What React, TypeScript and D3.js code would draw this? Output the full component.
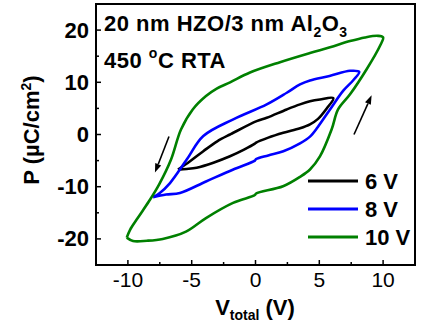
import React from "react";
import * as d3 from "d3";

const W = 422;
const H = 329;

// Data: [V_total (V), P (µC/cm²)]
const loop6Lower: [number, number][] = [
  [-6.07, -6.73], [-5.4, -6.6], [-4.61, -6.35], [-3.3, -5.4], [-2.0, -4.17], [-0.9, -2.9], [-0.05, -1.75],
  [0.05, -1.55], [1.0, -0.6], [2.18, 0.33], [3.49, 1.2], [4.27, 1.95], [4.9, 3.0], [5.58, 5.0], [6.1, 6.95],
];
const loop6Upper: [number, number][] = [
  [6.1, 6.95], [5.05, 6.7], [4.27, 6.35], [3.49, 5.77], [2.45, 4.8], [0.88, 3.2], [0.09, 2.56],
  [-1.74, 0.33], [-2.0, 0.0], [-3.0, -1.3], [-4.09, -3.2], [-5.13, -5.13], [-6.07, -6.73],
];
const loop8Lower: [number, number][] = [
  [-8.03, -12.0], [-7.01, -11.5], [-5.92, -11.2], [-3.88, -9.0], [-1.74, -6.7], [-0.05, -5.0],
  [0.05, -4.7], [1.0, -4.0], [2.18, -3.2], [3.49, -1.7], [4.27, -0.4], [4.9, 1.5], [5.84, 4.8], [6.88, 8.4],
  [7.66, 10.4], [8.13, 12.0],
];
const loop8Upper: [number, number][] = [
  [8.13, 12.0], [7.41, 12.2], [5.8, 11.2], [4.27, 10.35], [3.49, 9.6], [2.45, 8.0], [0.88, 5.77],
  [-1.74, 2.9], [-4.09, -0.3], [-5.39, -4.8], [-6.7, -9.3], [-7.5, -11.2], [-8.03, -12.0],
];
const loop10Lower: [number, number][] = [
  [-10.09, -19.75], [-9.6, -20.4], [-8.5, -20.35], [-7.27, -20.0], [-5.45, -18.6], [-3.88, -16.0],
  [-1.76, -13.1], [-0.05, -11.6], [0.05, -11.3], [2.16, -9.9], [3.49, -8.1], [4.27, -6.7], [5.05, -4.2],
  [5.97, 1.0], [6.47, 4.8], [7.41, 7.7], [8.71, 12.5], [9.76, 17.0], [10.0, 18.6],
];
const loop10Upper: [number, number][] = [
  [10.0, 18.6], [9.6, 18.9], [8.58, 18.6], [7.41, 17.9], [5.84, 16.7], [4.27, 15.6], [1.92, 13.85],
  [-0.43, 11.87], [-1.99, 10.0], [-3.04, 8.8], [-3.88, 7.37], [-4.92, 4.8], [-5.84, 0.96],
  [-6.62, -4.8], [-7.56, -9.6], [-8.35, -12.8], [-9.23, -16.0], [-9.84, -18.3], [-10.09, -19.75],
];

const seriesLabels = ["6 V", "8 V", "10 V"];
const seriesColors = ["#000000", "#0000ff", "#008000"];
const xTicks = [-10, -5, 0, 5, 10];
const xMinor = [-7.5, -2.5, 2.5, 7.5];
const yTicks = [-20, -10, 0, 10, 20];
const yMinor = [-15, -5, 5, 15];
// arrows: [from, to] in data coords
const arrowDown: [number, number][] = [[-6.78, -0.38], [-7.88, -7.3]];
const arrowUp: [number, number][] = [[7.72, 0.0], [9.1, 7.5]];

const FONT = "'Liberation Sans', Arial, sans-serif";

export default function App() {
  const left = 96, right = 415, top = 4, bottom = 265;
  const x = d3.scaleLinear().domain([-12.5, 12.5]).range([left, right]);
  const y = d3.scaleLinear().domain([-25, 25]).range([bottom, top]);
  const line = d3
    .line<[number, number]>()
    .x((d) => x(d[0]))
    .y((d) => y(d[1]))
    .curve(d3.curveCatmullRom.alpha(0.5));

  const loops = [
    [loop6Lower, loop6Upper],
    [loop8Lower, loop8Upper],
    [loop10Lower, loop10Upper],
  ];

  const arrow = (a: [number, number][], key: string) => {
    const x1 = x(a[0][0]), y1 = y(a[0][1]), x2 = x(a[1][0]), y2 = y(a[1][1]);
    const ang = Math.atan2(y2 - y1, x2 - x1);
    const L = 9, Wd = 3.2;
    const bx = x2 - L * Math.cos(ang), by = y2 - L * Math.sin(ang);
    const px = -Math.sin(ang) * Wd, py = Math.cos(ang) * Wd;
    return (
      <g key={key}>
        <line x1={x1} y1={y1} x2={bx} y2={by} stroke="#000" strokeWidth={1.6} />
        <path d={`M${x2},${y2}L${bx + px},${by + py}L${bx - px},${by - py}Z`} fill="#000" />
      </g>
    );
  };

  return (
    <svg width={W} height={H} style={{ position: "absolute", left: 0, top: 0, background: "#fff" }} fontFamily={FONT}>
      <rect x={0} y={0} width={W} height={H} fill="#fff" />
      {loops.map((lp, i) => (
        <path
          key={i}
          d={line([...lp[0], ...lp[1].slice(1)]) || ""}
          fill="none"
          stroke={seriesColors[i]}
          strokeWidth={2.6}
          strokeLinejoin="round"
        />
      ))}
      {arrow(arrowDown, "ad")}
      {arrow(arrowUp, "au")}
      {/* frame */}
      <rect x={left} y={top} width={right - left} height={bottom - top} fill="none" stroke="#000" strokeWidth={2} />
      {/* ticks */}
      {xTicks.map((t) => (
        <line key={"xt" + t} x1={x(t)} x2={x(t)} y1={bottom} y2={bottom - 5} stroke="#000" strokeWidth={1.5} />
      ))}
      {xMinor.map((t) => (
        <line key={"xm" + t} x1={x(t)} x2={x(t)} y1={bottom} y2={bottom - 3} stroke="#000" strokeWidth={1.5} />
      ))}
      {yTicks.map((t) => (
        <line key={"yt" + t} x1={left} x2={left + 5} y1={y(t)} y2={y(t)} stroke="#000" strokeWidth={1.5} />
      ))}
      {yMinor.map((t) => (
        <line key={"ym" + t} x1={left} x2={left + 3} y1={y(t)} y2={y(t)} stroke="#000" strokeWidth={1.5} />
      ))}
      {xTicks.map((t) => (
        <text key={"xl" + t} x={x(t)} y={287} textAnchor="middle" fontSize={21}>
          {t}
        </text>
      ))}
      {yTicks.map((t) => (
        <text key={"yl" + t} x={89} y={y(t) + 7.5} textAnchor="end" fontSize={22} fontWeight="bold">
          {t}
        </text>
      ))}
      {/* axis titles */}
      <text x={255} y={315} textAnchor="middle" fontSize={22} fontWeight="bold">
        V<tspan fontSize={14} dy={5}>total</tspan>
        <tspan dy={-5}> (V)</tspan>
      </text>
      <text transform="translate(39,130) rotate(-90)" textAnchor="middle" fontSize={22} fontWeight="bold">
        P (µC/cm<tspan fontSize={14} dy={-8}>2</tspan>
        <tspan dy={8}>)</tspan>
      </text>
      {/* annotations */}
      <text x={104} y={31} fontSize={22} fontWeight="bold" letterSpacing={0.5}>
        20 nm HZO/3 nm Al<tspan fontSize={14} dy={6}>2</tspan>
        <tspan dy={-6}>O</tspan>
        <tspan fontSize={14} dy={6}>3</tspan>
      </text>
      <text x={104} y={68} fontSize={22} fontWeight="bold" letterSpacing={0.5}>
        450 <tspan fontSize={14} dy={-10}>o</tspan>
        <tspan dy={10}>C RTA</tspan>
      </text>
      {/* legend */}
      {seriesLabels.map((s, i) => (
        <g key={s}>
          <line x1={308} x2={358} y1={181 + i * 28} y2={181 + i * 28} stroke={seriesColors[i]} strokeWidth={3} />
          <text x={365} y={188.5 + i * 28} fontSize={22} fontWeight="bold">
            {s}
          </text>
        </g>
      ))}
    </svg>
  );
}
